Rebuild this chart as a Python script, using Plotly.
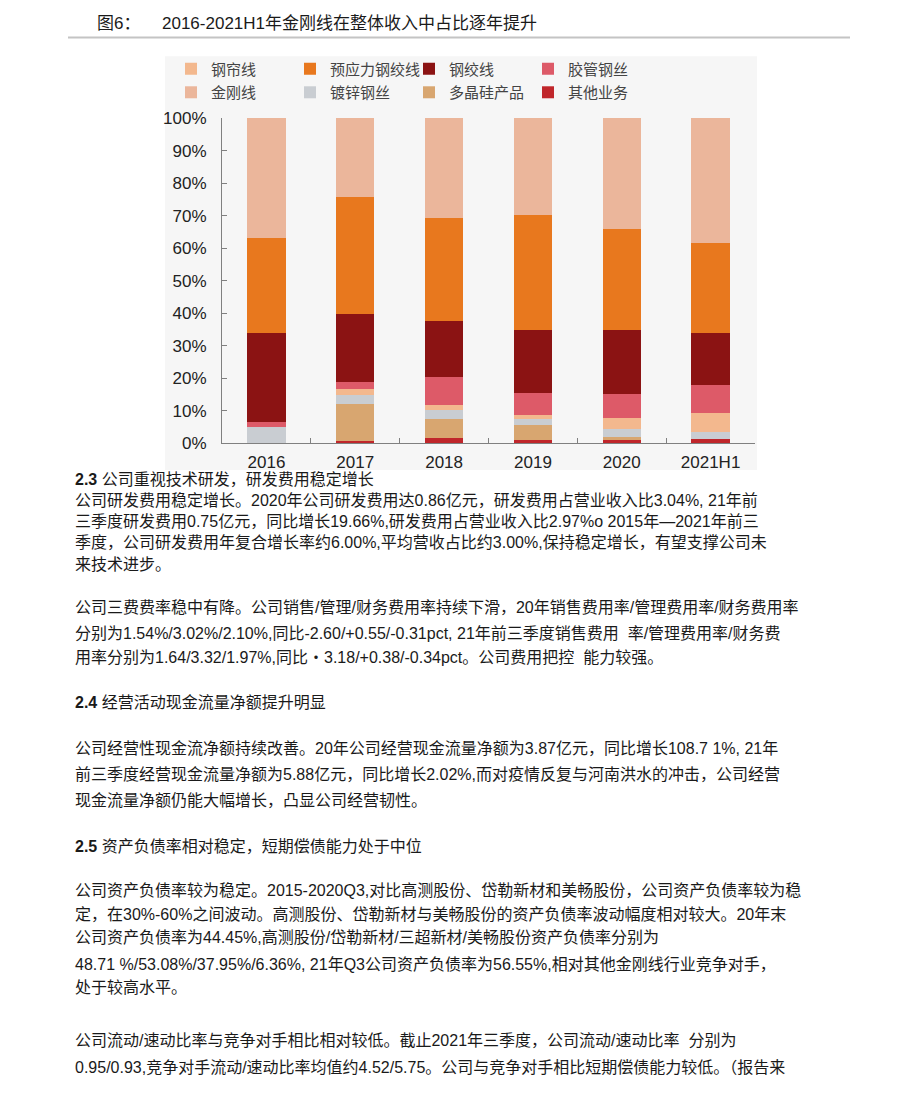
import plotly.graph_objects as go

W, H = 920, 1100

categories = ["2016", "2017", "2018", "2019", "2020", "2021H1"]

# stacked bottom -> top
qita = [0.0, 0.6, 1.6, 1.1, 1.1, 1.4]          # 其他业务
duojinggui = [0.0, 11.6, 5.9, 4.5, 1.0, 0.0]   # 多晶硅产品
duxin = [5.0, 2.7, 2.7, 1.9, 2.3, 2.0]         # 镀锌钢丝
ganglian = [0.0, 1.8, 1.5, 1.2, 3.5, 6.0]      # 钢帘线
jiaoguan = [1.6, 2.2, 8.7, 6.8, 7.3, 8.5]      # 胶管钢丝
gangjiao = [27.4, 21.0, 17.3, 19.3, 19.6, 15.9]  # 钢绞线
yuyingli = [29.0, 35.7, 31.6, 35.3, 31.1, 27.7]  # 预应力钢绞线
jingang = [37.0, 24.4, 30.7, 29.9, 34.1, 38.5]   # 金刚线

y_ticks = [0, 10, 20, 30, 40, 50, 60, 70, 80, 90, 100]
y_ticktext = [f"{v}%" for v in y_ticks]

series = [
    ("其他业务", qita, "#c0262b", "legend2", 8),
    ("多晶硅产品", duojinggui, "#d8a670", "legend2", 7),
    ("镀锌钢丝", duxin, "#c9cdd2", "legend2", 6),
    ("钢帘线", ganglian, "#f3b88e", "legend", 1),
    ("胶管钢丝", jiaoguan, "#dd5a68", "legend", 4),
    ("钢绞线", gangjiao, "#8b1313", "legend", 3),
    ("预应力钢绞线", yuyingli, "#e8781e", "legend", 2),
    ("金刚线", jingang, "#ebb69b", "legend2", 5),
]

def px(x):
    return x / W

def py(y):
    return 1 - y / H

fig = go.Figure()
for name, vals, color, lg, rank in series:
    fig.add_trace(go.Bar(
        x=categories, y=vals, name=name,
        marker=dict(color=color, line=dict(width=0)),
        legend=lg, legendrank=rank,
    ))

BODY = "Liberation Sans Narrow, Liberation Sans, Noto Sans CJK SC"
legend_font = dict(family="Noto Sans CJK SC", size=15, color="#444")

fig.update_layout(
    width=W, height=H,
    margin=dict(l=0, r=0, t=0, b=0),
    paper_bgcolor="white",
    plot_bgcolor="rgba(0,0,0,0)",
    barmode="stack",
    bargap=0.57,
    showlegend=True,
    legend=dict(orientation="h", x=px(171), y=py(61), xanchor="left", yanchor="middle",
                entrywidth=74, traceorder="normal", font=legend_font,
                bgcolor="rgba(0,0,0,0)"),
    legend2=dict(orientation="h", x=px(171), y=py(85), xanchor="left", yanchor="middle",
                 entrywidth=74, traceorder="normal", font=legend_font,
                 bgcolor="rgba(0,0,0,0)"),
    xaxis=dict(
        domain=[px(222), px(755)], type="category",
        showline=True, linecolor="#808080", linewidth=1,
        ticks="inside", ticklen=5, tickcolor="#808080", tickson="boundaries",
        tickfont=dict(family="Liberation Sans, Arial", size=17, color="#222"),
        ticklabelstandoff=3, showgrid=False, zeroline=False,
    ),
    yaxis=dict(
        domain=[py(442), py(111)], range=[0, 100],
        tickvals=y_ticks, ticktext=y_ticktext,
        showline=True, linecolor="#808080", linewidth=1,
        ticks="inside", ticklen=5, tickcolor="#808080",
        tickfont=dict(family="Liberation Sans, Arial", size=17, color="#222"),
        ticklabelstandoff=11, showgrid=False, zeroline=False,
    ),
    shapes=[
        dict(type="rect", xref="paper", yref="paper", layer="below",
             x0=px(165), x1=px(757), y0=py(469), y1=py(48),
             fillcolor="#f6f6f6", line=dict(width=0)),
        dict(type="line", xref="paper", yref="paper",
             x0=px(68), x1=px(850), y0=py(29), y1=py(29),
             line=dict(color="#c4c4c4", width=2)),
    ],
)

annotations = [
    (95, 15, "图6：", 17),
    (160, 15, "2016-2021H1年金刚线在整体收入中占比逐年提升", 17),
    (73, 479, "<b>2.3</b> 公司重视技术研发，研发费用稳定增长", 16),
    (73, 500, "公司研发费用稳定增长。2020年公司研发费用达0.86亿元，研发费用占营业收入比3.04%, 21年前", 16),
    (73, 522, "三季度研发费用0.75亿元，同比增长19.66%,研发费用占营业收入比2.97%o 2015年—2021年前三", 16),
    (73, 543, "季度，公司研发费用年复合增长率约6.00%,平均营收占比约3.00%,保持稳定增长，有望支撑公司未", 16),
    (73, 565, "来技术进步。", 16),
    (73, 609, "公司三费费率稳中有降。公司销售/管理/财务费用率持续下滑，20年销售费用率/管理费用率/财务费用率", 16),
    (73, 635, "分别为1.54%/3.02%/2.10%,同比-2.60/+0.55/-0.31pct, 21年前三季度销售费用  率/管理费用率/财务费", 16),
    (73, 660, "用率分别为1.64/3.32/1.97%,同比・3.18/+0.38/-0.34pct。公司费用把控  能力较强。", 16),
    (73, 706, "<b>2.4</b> 经营活动现金流量净额提升明显", 16),
    (73, 752, "公司经营性现金流净额持续改善。20年公司经营现金流量净额为3.87亿元，同比增长108.7 1%, 21年", 16),
    (73, 779, "前三季度经营现金流量净额为5.88亿元，同比增长2.02%,而对疫情反复与河南洪水的冲击，公司经营", 16),
    (73, 805, "现金流量净额仍能大幅增长，凸显公司经营韧性。", 16),
    (73, 852, "<b>2.5</b> 资产负债率相对稳定，短期偿债能力处于中位", 16),
    (73, 897, "公司资产负债率较为稳定。2015-2020Q3,对比高测股份、岱勒新材和美畅股份，公司资产负债率较为稳", 16),
    (73, 921, "定，在30%-60%之间波动。高测股份、岱勒新材与美畅股份的资产负债率波动幅度相对较大。20年末", 16),
    (73, 945, "公司资产负债率为44.45%,高测股份/岱勒新材/三超新材/美畅股份资产负债率分别为", 16),
    (73, 972, "48.71 %/53.08%/37.95%/6.36%, 21年Q3公司资产负债率为56.55%,相对其他金刚线行业竞争对手，", 16),
    (73, 996, "处于较高水平。", 16),
    (73, 1050, "公司流动/速动比率与竞争对手相比相对较低。截止2021年三季度，公司流动/速动比率  分别为", 16),
    (73, 1077, "0.95/0.93,竞争对手流动/速动比率均值约4.52/5.75。公司与竞争对手相比短期偿债能力较低。（报告来", 16),
]

for x, y, text, size in annotations:
    fig.add_annotation(
        x=px(x), y=py(y), xref="paper", yref="paper",
        text=text, showarrow=False, xanchor="left", yanchor="middle",
        font=dict(family=BODY, size=size, color="#1a1a1a"),
    )

fig.write_html("out.html")
